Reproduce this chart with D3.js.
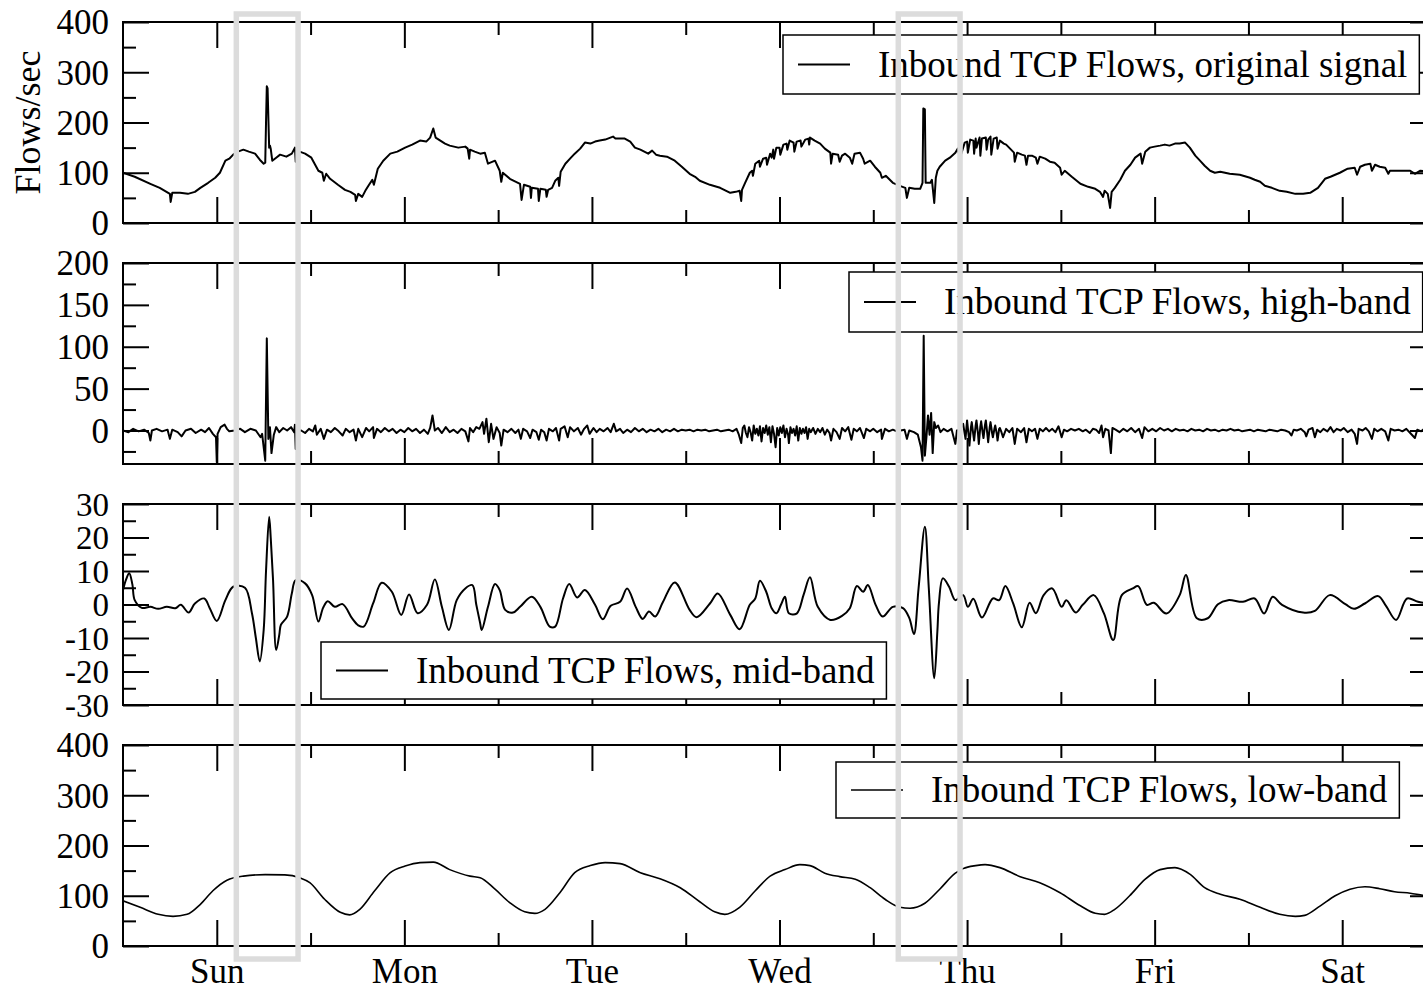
<!DOCTYPE html>
<html>
<head>
<meta charset="utf-8">
<script src="https://cdn.jsdelivr.net/npm/d3@7"></script>
<style>
  body { margin: 0; background: #fff; }
  svg text { font-family: "Liberation Serif", "Times New Roman", serif; fill: #000; }
</style>
</head>
<body>
<svg id="chart" width="1423" height="990"></svg>
<script>
// ---- data: one week of inbound TCP flows, time in hours from Saturday noon ----
const dayLabels = ["Sun", "Mon", "Tue", "Wed", "Thu", "Fri", "Sat"];
const dayTickHours = [12, 36, 60, 84, 108, 132, 156];
const midnightHours = [24, 48, 72, 96, 120, 144];
const highlightWindows = [[14.5, 22.4], [99.2, 107.1]];

const originalSignal = [
  [0,100],[1.5,92],[3.5,78],[4.7,70],[6.0,58],[6.1,42],[6.3,60],[7.3,60],[8.3,58],[9.2,62],
  [9.9,70],[10.9,80],[11.8,90],[12.4,100],[13.1,124],[13.6,128],[14.1,136],[14.7,142],[15.4,146],[16.1,142],
  [16.9,138],[17.5,126],[18.0,118],[18.2,120],[18.3,200],[18.4,272],[18.5,268],[18.7,150],[18.8,154],[18.9,148],
  [19.1,124],[19.6,130],[20.1,136],[20.9,132],[21.6,138],[22.0,150],[22.1,122],[22.2,148],[22.6,142],[23.3,138],
  [24.1,130],[25.0,104],[25.5,100],[25.7,84],[26.0,98],[26.5,88],[27.5,76],[28.4,66],[29.1,62],[29.7,56],
  [29.8,44],[30.1,58],[30.6,52],[31.0,64],[31.4,74],[31.9,86],[32.1,76],[32.6,108],[33.3,124],[34.2,138],
  [35.1,142],[36.1,150],[37.0,156],[38.0,164],[38.8,162],[39.3,170],[39.7,188],[40.0,170],[40.6,164],[41.2,158],
  [41.8,154],[42.9,150],[43.8,152],[44.1,148],[44.3,128],[44.4,146],[45.0,142],[45.7,138],[46.3,140],[46.7,118],
  [47.6,124],[48.2,104],[48.4,82],[48.6,100],[49.5,88],[50.8,78],[51.0,46],[51.3,76],[52.1,72],[52.2,50],
  [52.3,70],[53.1,68],[53.2,44],[53.4,68],[54.1,66],[54.2,52],[54.4,66],[54.9,70],[55.3,84],[55.7,90],
  [55.8,74],[56.0,102],[56.6,118],[57.2,128],[57.8,138],[58.5,148],[59.1,160],[59.8,158],[60.4,162],[61.0,164],
  [61.7,166],[62.7,172],[63.0,168],[63.6,168],[64.2,168],[64.9,162],[65.5,150],[66.2,146],[67.2,138],[67.7,144],
  [68.2,136],[68.7,134],[69.6,132],[70.6,124],[71.5,112],[72.5,98],[73.2,92],[73.8,84],[75.1,76],[76.4,70],
  [77.7,60],[78.4,62],[78.9,64],[79.1,44],[79.2,66],[79.6,80],[80.2,100],[80.5,104],[80.6,94],[80.9,118],
  [81.4,124],[81.5,112],[81.9,128],[82.3,130],[82.4,116],[82.8,138],[83.0,130],[83.2,146],[83.3,128],[83.6,150],
  [84.0,150],[84.1,136],[84.5,156],[84.9,158],[85.0,146],[85.3,164],[85.8,160],[85.9,142],[86.2,162],[86.7,164],
  [86.8,152],[87.3,166],[87.7,168],[87.8,156],[87.9,170],[88.5,164],[89.2,158],[89.8,148],[90.5,140],[90.6,118],
  [90.8,138],[91.5,136],[91.7,122],[92.0,134],[92.4,138],[93.0,130],[93.3,118],[93.6,138],[94.3,140],[94.7,128],
  [94.9,118],[95.6,124],[96.2,112],[96.9,100],[97.1,90],[97.6,94],[98.5,80],[99.4,74],[100.1,70],[100.3,50],
  [100.6,70],[101.3,68],[102.0,68],[102.3,80],[102.4,228],[102.6,226],[102.7,80],[103.3,80],[103.5,86],[103.8,40],
  [104.0,90],[104.2,104],[104.5,112],[105.2,124],[105.8,130],[106.5,140],[106.8,148],[107.1,130],[107.7,160],[108.0,162],
  [108.1,140],[108.4,166],[108.8,164],[108.9,138],[109.1,168],[109.2,150],[109.6,170],[109.7,134],[109.9,168],[110.4,170],
  [110.5,146],[110.7,166],[111.0,172],[111.1,136],[111.4,168],[111.8,170],[111.9,148],[112.2,164],[112.7,158],
  [113.0,156],[113.5,148],[114.0,140],[114.1,122],[114.4,140],[115.0,136],[115.4,134],[115.6,116],[115.8,134],[116.3,134],
  [116.8,130],[117.0,118],[117.3,132],[118.0,128],[118.6,122],[119.2,120],[119.9,110],[120.1,96],[120.5,104],[121.4,92],
  [122.5,78],[123.5,72],[124.4,68],[125.0,62],[125.4,52],[125.6,64],[126.0,58],[126.3,30],[126.5,62],[126.9,70],
  [127.6,86],[128.2,104],[128.9,116],[129.5,130],[130.2,138],[130.4,118],[130.8,142],[131.4,150],[132.0,152],[132.7,154],
  [133.3,156],[133.9,154],[134.6,158],[135.2,158],[135.9,160],[136.5,150],[137.2,134],[137.8,124],[138.4,114],[139.1,104],
  [139.7,100],[140.4,102],[141.6,98],[142.9,96],[144.2,90],[144.8,86],[145.5,82],[146.1,74],[147.0,70],[148.0,64],
  [148.9,62],[150.0,58],[151.0,58],[151.9,60],[152.9,70],[153.8,88],[154.5,92],[155.7,100],[156.7,108],[157.6,110],
  [157.9,96],[158.3,112],[158.9,116],[159.6,118],[159.8,104],[160.2,116],[160.8,112],[161.5,110],[161.9,98],[162.1,104],
  [163.4,104],[164.7,104],[165.3,98],[166.0,104],[168.0,100]
];

const highBand = [
  [0,0],[0.7,-2],[1.3,2],[2.0,-1],[2.7,1],[3.3,-3],[3.5,-12],[3.7,0],[4.3,2],[5.0,-1],
  [5.7,1],[6.0,-10],[6.3,1],[7.0,-2],[7.5,-7],[8.0,0],[8.7,2],[9.3,-3],[10.0,1],[10.5,-2],
  [11.0,3],[11.5,-4],[11.9,-8],[12.0,-38],[12.1,-4],[12.5,4],[13.0,7],[13.3,2],[13.6,-1],[14.3,0],
  [15.0,2],[15.6,-2],[16.3,2],[17.0,0],[17.6,-8],[17.8,-4],[18.2,-36],[18.4,110],[18.6,-10],[18.8,4],
  [19.0,-27],[19.3,-5],[19.6,4],[20.0,-2],[20.5,3],[21.0,0],[21.5,4],[21.9,-2],[22.0,7],[22.1,-22],
  [22.2,0],[22.8,0],[23.3,-3],[23.8,2],[24.3,-1],[24.6,6],[24.8,-5],[25.3,2],[25.7,-10],[26.1,1],
  [26.6,-2],[27.1,3],[27.6,-1],[28.1,-6],[28.5,2],[29.0,-2],[29.5,1],[29.8,-12],[30.1,2],[30.6,-8],
  [31.1,3],[31.5,-1],[32.0,4],[32.1,-9],[32.5,2],[33.0,-2],[33.5,3],[34.0,-1],[34.5,2],[35.0,-3],
  [35.5,1],[36.0,-2],[36.5,3],[37.0,-1],[37.5,2],[38.0,-3],[38.5,1],[39.0,-4],[39.3,3],[39.6,18],
  [39.9,0],[40.3,3],[40.8,-3],[41.3,4],[41.8,-2],[42.3,1],[42.8,-3],[43.3,2],[43.8,-1],[44.2,-13],
  [44.4,3],[44.8,-2],[45.2,4],[45.6,2],[46.0,10],[46.2,-4],[46.5,14],[46.8,-14],[47.1,8],[47.4,-10],
  [47.8,4],[48.2,-3],[48.4,-18],[48.7,1],[49.2,-2],[49.7,2],[50.2,-3],[50.6,1],[50.9,-10],[51.2,2],
  [51.7,-1],[52.1,-9],[52.4,1],[52.9,-2],[53.2,-11],[53.5,1],[53.9,-2],[54.2,-12],[54.5,2],[55.0,-1],
  [55.4,3],[55.8,-12],[56.0,2],[56.5,5],[56.9,-8],[57.2,4],[57.7,-1],[58.2,3],[58.6,-5],[59.0,2],
  [59.4,6],[59.7,-4],[60.2,3],[60.6,-2],[61.0,2],[61.5,-1],[62.0,3],[62.4,-2],[62.8,8],[63.1,-1],
  [63.6,2],[64.0,-3],[64.5,1],[65.0,-2],[65.5,3],[66.0,-1],[66.5,2],[67.0,-2],[67.5,1],[68.0,-1],
  [68.5,2],[69.0,-2],[69.5,1],[70.0,-1],[70.5,2],[71.0,-1],[71.5,1],[72.0,0],[72.5,1],[73.0,-1],
  [73.5,1],[74.0,0],[74.5,1],[75.0,-1],[75.5,0],[76.0,1],[76.5,-1],[77.0,0],[77.5,1],[78.0,-1],
  [78.5,2],[78.8,-5],[79.1,-15],[79.3,3],[79.5,6],[79.7,-3],[79.9,-8],[80.1,4],[80.3,-2],[80.5,-12],
  [80.7,6],[80.9,-4],[81.1,2],[81.3,-6],[81.5,5],[81.7,-13],[81.9,3],[82.1,-3],[82.3,6],[82.5,-5],
  [82.7,4],[82.9,-14],[83.1,5],[83.3,-4],[83.5,-20],[83.7,3],[83.9,-6],[84.1,4],[84.3,-3],[84.5,6],
  [84.7,-8],[84.9,2],[85.1,-5],[85.2,-15],[85.4,4],[85.6,-3],[85.8,2],[86.0,-6],[86.2,5],[86.4,-12],
  [86.6,3],[86.8,-4],[87.0,2],[87.2,-3],[87.4,4],[87.6,-10],[87.8,2],[88.0,-2],[88.3,3],[88.6,-4],
  [88.9,2],[89.2,-2],[89.5,3],[89.8,-5],[90.1,1],[90.4,-3],[90.6,-12],[90.9,2],[91.3,-2],[91.7,-10],
  [92.0,3],[92.4,-1],[92.8,4],[93.2,-11],[93.5,2],[93.9,-1],[94.3,3],[94.8,-9],[95.1,2],[95.6,-1],
  [96.0,2],[96.5,-2],[97.0,1],[97.1,-10],[97.5,2],[98.0,-1],[98.5,1],[99.0,-1],[99.5,0],[100.0,1],
  [100.3,-10],[100.6,0],[101.2,-2],[101.7,-5],[102.1,-20],[102.3,-36],[102.45,113],[102.6,-30],[102.8,-8],[103.0,18],
  [103.2,-5],[103.4,21],[103.6,-27],[103.8,10],[104.0,3],[104.3,6],[104.6,-2],[105.0,2],[105.5,-1],[106.0,2],
  [106.5,-16],[106.7,0],[107.1,1],[107.5,8],[107.7,-4],[107.8,-10],[108.0,12],[108.2,-6],[108.3,-18],[108.5,4],
  [108.6,10],[108.8,-5],[108.9,-12],[109.1,6],[109.2,12],[109.4,-4],[109.5,-16],[109.7,5],[109.8,11],[110.0,-3],
  [110.1,-9],[110.3,7],[110.4,12],[110.6,-5],[110.7,-14],[110.9,4],[111.0,10],[111.2,-3],[111.3,-8],[111.5,2],
  [111.6,6],[111.8,-4],[111.9,-12],[112.1,2],[112.2,3],[112.4,-2],[112.6,-8],[113.0,2],[113.4,-2],[113.8,3],
  [114.1,-16],[114.4,2],[114.9,-2],[115.3,3],[115.6,-14],[115.9,2],[116.3,-1],[116.7,2],[117.0,-10],[117.3,2],
  [117.7,-1],[118.1,3],[118.5,-1],[118.9,2],[119.3,-2],[119.7,5],[120.1,-8],[120.4,1],[120.8,-1],[121.3,2],
  [121.8,0],[122.3,2],[122.8,-1],[123.2,1],[123.7,-3],[124.1,2],[124.5,1],[124.9,-3],[125.2,6],[125.4,-8],
  [125.7,2],[126.1,0],[126.4,-27],[126.6,3],[127.0,1],[127.5,-2],[128.0,2],[128.5,-1],[129.0,3],[129.5,-2],
  [130.0,2],[130.4,-9],[130.7,4],[131.2,-1],[131.7,2],[132.2,-1],[132.7,3],[133.2,0],[133.7,2],[134.2,-1],
  [134.7,2],[135.2,0],[135.7,1],[136.2,-1],[136.7,2],[137.2,0],[137.7,1],[138.2,-1],[138.7,2],[139.2,0],
  [139.7,1],[140.2,-1],[140.7,1],[141.2,0],[141.7,2],[142.2,0],[142.7,1],[143.2,-1],[143.7,0],[144.2,1],
  [144.7,-1],[145.2,1],[145.7,0],[146.2,-1],[146.7,1],[147.2,0],[147.7,-1],[148.2,1],[148.7,0],[149.2,-2],
  [149.5,-6],[149.8,1],[150.2,0],[150.7,2],[151.2,-2],[151.4,-7],[151.7,1],[152.2,3],[152.5,-8],[152.8,1],
  [153.2,-2],[153.6,2],[154.1,-1],[154.5,4],[154.9,-2],[155.3,2],[155.8,0],[156.2,3],[156.7,-2],[157.2,1],
  [157.6,-4],[157.9,-16],[158.1,2],[158.6,0],[159.0,3],[159.4,-1],[159.8,-10],[160.1,2],[160.5,-1],[161.0,2],
  [161.5,-1],[161.9,-12],[162.2,2],[162.7,0],[163.2,1],[163.7,-1],[164.2,2],[164.7,-3],[165.3,-9],[165.6,1],
  [166.1,-1],[166.6,3],[167.1,0],[167.6,-2],[168.0,1]
];

const midBand = [
  [0,4.3],[0.4,7.5],[0.8,9.3],[1.2,6],[1.5,1.3],[2.4,-1],[3.5,-0.7],[4.5,-1.3],[5.6,-0.7],[6.7,-1.1],
  [7.4,-0.1],[8.4,-2.4],[9.2,0.3],[10.4,1.8],[11.1,-1.1],[12.0,-4.9],[13.1,1.3],[14.1,5.3],[15.6,5],[16.5,-2.6],
  [17.0,-10],[17.5,-17],[18.0,-7.6],[18.3,10],[18.7,26.2],[18.9,20],[19.2,7.3],[19.6,-13.6],[20.0,-9],[20.2,-6.1],
  [21.0,-3.6],[21.6,3.3],[22.1,7.3],[23.3,6.3],[24.2,2.8],[25.0,-5.1],[25.6,-1],[26.2,1],[27.1,-0.7],[28.1,0.1],
  [29.3,-4.1],[30.1,-6.2],[30.8,-6.6],[32.0,0.3],[33.1,6.5],[34.4,3.8],[35.6,-3.1],[36.6,3],[37.7,-2.6],[38.9,-0.1],
  [39.9,7.5],[40.8,-0.7],[41.7,-7.6],[42.7,1.3],[43.8,4.8],[44.7,5.8],[45.2,0],[45.7,-5.6],[45.9,-7.6],[46.7,-0.7],
  [47.6,6.1],[48.2,4.3],[48.9,-1.6],[49.9,-2.4],[50.8,-0.7],[52.3,2.3],[53.4,-0.7],[54.6,-6.6],[55.3,-6.6],[56.3,1.8],
  [57.1,6.1],[58.1,2.1],[59.1,4.3],[60.4,-0.1],[61.4,-4.4],[62.4,-0.4],[63.6,0.8],[64.5,4.8],[65.6,-0.7],[66.5,-4.3],
  [67.3,-2.1],[68.1,-3.6],[69.1,0.8],[70.6,6.6],[72.5,-1.6],[73.4,-3.8],[75.1,0.3],[76.1,3.3],[77.7,-3.1],[78.9,-7.4],
  [80.2,-0.1],[80.9,1.8],[81.5,7.1],[82.3,3.8],[83.0,-1.1],[83.6,-2.6],[84.2,0],[84.7,2.3],[85.2,-2.6],[86.2,-2.7],
  [87.1,3],[87.9,8.1],[88.9,-0.7],[90.5,-4.6],[92.0,-3.4],[93.0,-1.1],[93.9,5.5],[94.7,3.8],[95.3,5.8],[96.3,-0.1],
  [97.2,-3.6],[98.5,-0.7],[99.8,-1.1],[100.6,-4],[101.2,-8.8],[101.8,5],[102.6,23.2],[103.1,5],[103.8,-22],[104.2,-8],
  [104.4,0.4],[104.9,7.8],[105.7,5.3],[106.5,1.3],[107.5,2.8],[108.1,-0.7],[108.8,1.7],[109.9,-3.9],[111.3,1.8],[112.1,1.3],
  [112.9,5.5],[113.9,0.3],[115.0,-6.8],[116.0,0.5],[116.8,-2.6],[117.8,2.8],[118.9,4.8],[120.1,-0.7],[120.7,1.3],[121.9,-2.4],
  [122.8,-0.1],[124.2,2.8],[125.5,-2.6],[126.7,-10.6],[127.8,2.8],[129.2,4.8],[129.9,5.5],[131.0,-0.1],[131.9,0.5],[133.5,-2.7],
  [135.2,2.8],[136.0,8.8],[137.4,-4.1],[138.8,-4.1],[140.1,0.1],[141.4,1.3],[143.3,0.8],[144.8,1.8],[146.0,-2.7],[147.1,2.3],
  [148.3,-0.1],[151.0,-2.4],[152.5,-1.9],[154.4,2.8],[156.4,0.1],[157.5,-1.3],[158.9,0.3],[160.6,2.5],[161.6,-0.4],[162.9,-4.6],
  [164.3,1.8],[165.7,0.8],[168.0,0]
];

const lowBand = [
  [0,90],[2.2,77],[4.5,63],[6.4,59],[8.2,63],[9.9,83],[11.5,110],[13.3,131],[15.4,139],[18.2,142],
  [20.7,141.5],[22.6,136],[23.9,126],[25.8,93],[27.8,67],[29.0,62],[30.3,73],[32.2,110],[34.2,146],[36.1,159],
  [38.0,166],[39.7,167],[41.8,152],[44.4,139],[45.7,136],[47.6,113],[49.5,86],[51.4,68],[52.7,65],[54.0,73],
  [55.9,106],[57.8,146],[59.8,160],[61.7,166],[63.6,164],[66.2,146],[68.7,134],[71.3,116],[73.8,88],[75.7,68],
  [77.0,63],[78.9,77],[80.9,110],[82.8,139],[84.7,152],[86.6,162],[87.9,160],[89.8,145],[91.7,138],[93.7,133],
  [95.6,116],[97.5,93],[99.4,77],[100.7,75],[102.6,85],[104.5,113],[106.5,145],[107.5,154],[109.1,160],[110.3,162],
  [112.2,156],[114.8,138],[117.3,126],[119.9,106],[122.5,80],[124.4,65],[125.6,63],[126.9,73],[128.8,100],[130.8,133],
  [132.7,152],[134.6,156],[136.5,143],[138.4,116],[140.4,103],[142.9,93],[145.5,77],[148.0,63],[150.0,59],[151.2,61],
  [153.2,80],[155.1,100],[157.0,113],[158.9,118],[160.8,114],[162.7,108],[164.7,105],[166.3,101],[168.0,98]
];

// ---- panel definitions: values, y-range and tick labels ----
const panelSeries = [originalSignal, highBand, midBand, lowBand];
const panelDomains = [[0, 400], [-40, 200], [-30, 30], [0, 400]];
const panelMajorTicks = [[0, 100, 200, 300, 400], [0, 50, 100, 150, 200], [-30, -20, -10, 0, 10, 20, 30], [0, 100, 200, 300, 400]];
const panelMinorTicks = [[50, 150, 250, 350], [-25, 25, 75, 125, 175], [-25, -15, -5, 5, 15, 25], [50, 150, 250, 350]];
const legendLabels = [
  "Inbound TCP Flows, original signal",
  "Inbound TCP Flows, high-band",
  "Inbound TCP Flows, mid-band",
  "Inbound TCP Flows, low-band"
];
const yAxisTitle = "Flows/sec";

// ---- layout ----
const left = 123, right = 1436;
const panelTop0 = 22, panelStep = 241, panelH = 201;
const curves = [d3.curveLinear, d3.curveLinear, d3.curveCatmullRom.alpha(0.5), d3.curveMonotoneX];
const lineWidths = [2, 2, 2, 1.6];
// legend placement: [boxX, boxY offset from panel top]
const legendPlacement = [[783, 13], [849, 9], [321, 138], [836, 17]];
const legendBoxH = [59, 60, 57, 56];
const tickFonts = [35, 35, 33, 35];
const legendFont = 37;

const svg = d3.select("#chart");
const x = d3.scaleLinear().domain([0, 168]).range([left, right]);

panelSeries.forEach((series, i) => {
  const top = panelTop0 + i * panelStep;
  const bottom = top + panelH;
  const y = d3.scaleLinear().domain(panelDomains[i]).range([bottom, top]);
  const g = svg.append("g");

  const clipId = "clip" + i;
  g.append("clipPath").attr("id", clipId)
    .append("rect").attr("x", left).attr("y", top).attr("width", right - left).attr("height", panelH);

  // axes: ticks point inward on all four sides
  const styleAxis = sel => {
    sel.select(".domain").remove();
    sel.selectAll(".tick line").attr("stroke", "#000").attr("stroke-width", 2);
    sel.attr("font-family", null).attr("font-size", null);
  };

  g.append("g").attr("transform", `translate(${left},0)`)
    .call(d3.axisLeft(y).tickValues(panelMajorTicks[i]).tickSize(-26).tickPadding(14).tickFormat(d => String(d)))
    .call(styleAxis)
    .selectAll("text").attr("font-size", tickFonts[i]).attr("dy", "0.34em");
  g.append("g").attr("transform", `translate(${left},0)`)
    .call(d3.axisLeft(y).tickValues(panelMinorTicks[i]).tickSize(-13).tickFormat(""))
    .call(styleAxis);
  g.append("g").attr("transform", `translate(${right},0)`)
    .call(d3.axisRight(y).tickValues(panelMajorTicks[i]).tickSize(-26).tickFormat(""))
    .call(styleAxis);
  g.append("g").attr("transform", `translate(${right},0)`)
    .call(d3.axisRight(y).tickValues(panelMinorTicks[i]).tickSize(-13).tickFormat(""))
    .call(styleAxis);

  g.append("g").attr("transform", `translate(0,${top})`)
    .call(d3.axisTop(x).tickValues(dayTickHours).tickSize(-26).tickFormat(""))
    .call(styleAxis);
  g.append("g").attr("transform", `translate(0,${top})`)
    .call(d3.axisTop(x).tickValues(midnightHours).tickSize(-13).tickFormat(""))
    .call(styleAxis);
  const isLast = i === panelSeries.length - 1;
  const bottomAxis = g.append("g").attr("transform", `translate(0,${bottom})`)
    .call(d3.axisBottom(x).tickValues(dayTickHours).tickSize(-26).tickPadding(12)
      .tickFormat(isLast ? (d, k) => dayLabels[k] : ""))
    .call(styleAxis);
  bottomAxis.selectAll("text").attr("font-size", 35);
  g.append("g").attr("transform", `translate(0,${bottom})`)
    .call(d3.axisBottom(x).tickValues(midnightHours).tickSize(-13).tickFormat(""))
    .call(styleAxis);

  // frame
  g.append("rect")
    .attr("x", left).attr("y", top).attr("width", right - left).attr("height", panelH)
    .attr("fill", "none").attr("stroke", "#000").attr("stroke-width", 2);

  // series
  g.append("path")
    .datum(series)
    .attr("clip-path", `url(#${clipId})`)
    .attr("fill", "none")
    .attr("stroke", "#000")
    .attr("stroke-width", lineWidths[i])
    .attr("stroke-linejoin", "round")
    .attr("d", d3.line().x(d => x(d[0])).y(d => y(d[1])).curve(curves[i]));

  // legend
  const [lx, ly] = legendPlacement[i];
  const lg = g.append("g").attr("transform", `translate(${lx},${top + ly})`);
  const box = lg.append("rect")
    .attr("x", 0).attr("y", 0).attr("height", legendBoxH[i])
    .attr("fill", "#fff").attr("stroke", "#000").attr("stroke-width", 1.5);
  const midY = legendBoxH[i] / 2;
  lg.append("line")
    .attr("x1", 15).attr("x2", 67).attr("y1", midY).attr("y2", midY)
    .attr("stroke", "#000").attr("stroke-width", lineWidths[i]);
  const label = lg.append("text")
    .attr("x", 95).attr("y", midY + 12)
    .attr("font-size", legendFont)
    .text(legendLabels[i]);
  const textLen = label.node().getComputedTextLength();
  box.attr("width", 95 + textLen + 12);

  if (i === 0) {
    svg.append("text")
      .attr("transform", `translate(40,${(top + bottom) / 2}) rotate(-90)`)
      .attr("text-anchor", "middle")
      .attr("font-size", 36)
      .text(yAxisTitle);
  }
});

// highlighted event windows spanning all panels
const spanTop = panelTop0 - 8;
const spanBottom = panelTop0 + 3 * panelStep + panelH + 13;
svg.append("g").selectAll("rect")
  .data(highlightWindows)
  .join("rect")
  .attr("x", d => x(d[0]))
  .attr("width", d => x(d[1]) - x(d[0]))
  .attr("y", spanTop)
  .attr("height", spanBottom - spanTop)
  .attr("fill", "none")
  .attr("stroke", "#dcdcdc")
  .attr("stroke-width", 5.5);
</script>
</body>
</html>
